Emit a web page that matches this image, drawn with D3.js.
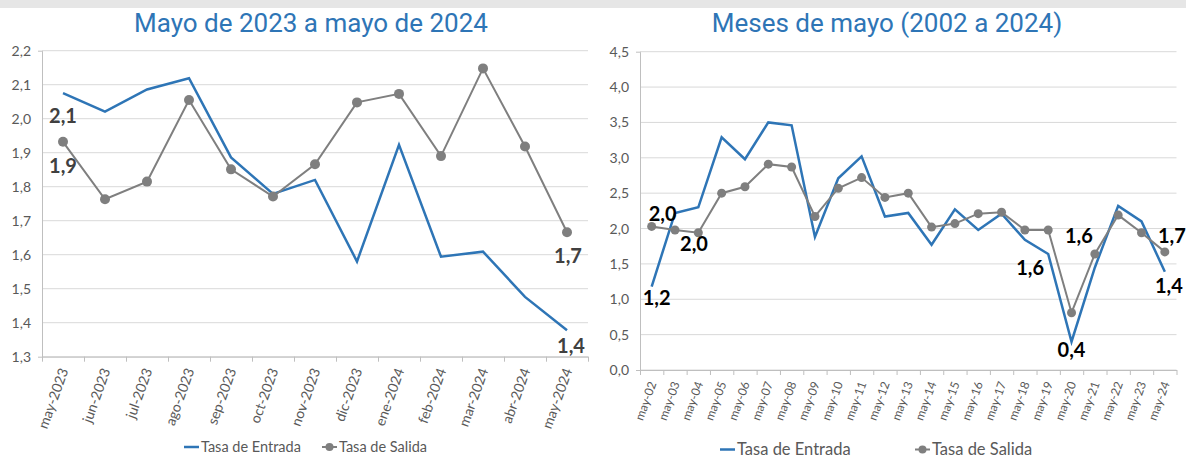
<!DOCTYPE html>
<html>
<head>
<meta charset="utf-8">
<script src="https://cdn.jsdelivr.net/npm/d3@7"></script>
<style>
  body { margin: 0; background: #fff; }
  text { font-family: Lato, "Liberation Sans", sans-serif; }
</style>
</head>
<body>
<svg id="graf" width="1186" height="459"></svg>
<script>
// datos: mayo 2023 a mayo 2024
const mesesCorto = ["may-2023", "jun-2023", "jul-2023", "ago-2023", "sep-2023", "oct-2023", "nov-2023",
  "dic-2023", "ene-2024", "feb-2024", "mar-2024", "abr-2024", "may-2024"]
const entradaCorto = [2.075, 2.021, 2.086, 2.119, 1.886, 1.779, 1.82, 1.58, 1.923, 1.594, 1.609, 1.476, 1.378]
const salidaCorto = [1.932, 1.763, 1.815, 2.055, 1.851, 1.771, 1.866, 2.048, 2.073, 1.89, 2.148, 1.918, 1.666]
const yTicksCorto = [1.3, 1.4, 1.5, 1.6, 1.7, 1.8, 1.9, 2.0, 2.1, 2.2]

// datos: meses de mayo 2002 a 2024
const aniosMayo = ["may-02", "may-03", "may-04", "may-05", "may-06", "may-07", "may-08", "may-09", "may-10",
  "may-11", "may-12", "may-13", "may-14", "may-15", "may-16", "may-17", "may-18", "may-19", "may-20",
  "may-21", "may-22", "may-23", "may-24"]
const entradaMayo = [1.18, 2.22, 2.30, 3.29, 2.98, 3.50, 3.46, 1.88, 2.71, 3.02, 2.17, 2.22, 1.77, 2.27,
  1.98, 2.21, 1.84, 1.64, 0.40, 1.45, 2.32, 2.10, 1.39]
const salidaMayo = [2.03, 1.98, 1.94, 2.50, 2.59, 2.91, 2.87, 2.17, 2.57, 2.72, 2.44, 2.50, 2.02, 2.07,
  2.21, 2.23, 1.98, 1.98, 0.81, 1.64, 2.19, 1.94, 1.67]
const yTicksMayo = [0, 0.5, 1.0, 1.5, 2.0, 2.5, 3.0, 3.5, 4.0, 4.5]

// etiquetas de valor: serie e indice del punto
const etiquetasCorto = [
  {serie: "entrada", i: 0, dx: 0, dy: 30},
  {serie: "salida", i: 0, dx: 0, dy: 31},
  {serie: "salida", i: 12, dx: 1, dy: 31},
  {serie: "entrada", i: 12, dx: 4, dy: 23}
]
const etiquetasMayo = [
  {serie: "entrada", i: 0, dx: 5, dy: 18},
  {serie: "salida", i: 0, dx: 11, dy: -5},
  {serie: "salida", i: 1, dx: 19, dy: 21},
  {serie: "entrada", i: 17, dx: -18, dy: 21},
  {serie: "salida", i: 19, dx: -16, dy: -11},
  {serie: "entrada", i: 18, dx: 0, dy: 15},
  {serie: "salida", i: 22, dx: 7, dy: -9},
  {serie: "entrada", i: 22, dx: 4, dy: 21}
]

const AZUL = "#2e75b6"
const GRIS = "#7f7f7f"
const coma = v => d3.format(".1f")(v).replace(".", ",")

var svg = d3.select("#graf")

// franja gris superior
svg.append("rect").attr("x", 0).attr("y", 0).attr("width", 1186).attr("height", 8).attr("fill", "#e6e6e6")

function dibujar(cfg) {
  var g = svg.append("g")
  var n = cfg.cats.length
  var y = d3.scaleLinear().domain(d3.extent(cfg.yTicks)).range([cfg.bottom, cfg.top])
  var x = d3.scaleBand().domain(cfg.cats).range([cfg.left, cfg.right])
  var xLin = d3.scaleLinear().domain([0, n]).range([cfg.left, cfg.right])
  var cx = i => x(cfg.cats[i]) + x.bandwidth() / 2

  // titulo
  g.append("text")
    .attr("x", cfg.tituloX).attr("y", 32)
    .attr("text-anchor", "middle")
    .style("font-family", "Roboto, sans-serif")
    .style("font-size", "26px")
    .attr("fill", AZUL)
    .text(cfg.titulo)

  // lineas de cuadricula
  g.selectAll(".grid")
    .data(cfg.yTicks)
    .enter()
    .append("line")
    .attr("x1", cfg.left).attr("x2", cfg.right)
    .attr("y1", d => y(d)).attr("y2", d => y(d))
    .attr("stroke", "#d9d9d9")
    .attr("stroke-width", 1)

  // eje y
  var ejeY = g.append("g")
    .attr("transform", "translate(" + cfg.left + ",0)")
    .call(d3.axisLeft(y).tickValues(cfg.yTicks).tickFormat(coma).tickSizeInner(0).tickSizeOuter(4).tickPadding(11))
  ejeY.select(".domain").attr("stroke", "#bfbfbf")
  ejeY.selectAll("text").attr("fill", "#595959").style("font-size", "14px").style("font-family", "Lato, sans-serif")

  // eje x
  var ejeX = g.append("g")
    .attr("transform", "translate(0," + cfg.bottom + ")")
    .call(d3.axisBottom(xLin).tickValues(d3.range(n + 1)).tickFormat("").tickSizeInner(5).tickSizeOuter(0))
  ejeX.select(".domain").attr("stroke", "#bfbfbf")
  ejeX.selectAll("line").attr("stroke", "#bfbfbf")

  g.selectAll(".xlab")
    .data(cfg.cats)
    .enter()
    .append("text")
    .attr("transform", (d, i) => "translate(" + (cx(i) + 1) + "," + (cfg.bottom + 12) + ") rotate(-70)")
    .attr("text-anchor", "end")
    .attr("dy", "0.35em")
    .attr("fill", "#595959")
    .style("font-size", cfg.fuenteX)
    .text(d => d)

  // series
  var linea = d3.line().x((d, i) => cx(i)).y(d => y(d))
  g.append("path")
    .datum(cfg.entrada)
    .attr("d", linea)
    .attr("fill", "none")
    .attr("stroke", AZUL)
    .attr("stroke-width", 2.5)
  g.append("path")
    .datum(cfg.salida)
    .attr("d", linea)
    .attr("fill", "none")
    .attr("stroke", GRIS)
    .attr("stroke-width", 2)
  g.selectAll(".punto")
    .data(cfg.salida)
    .enter()
    .append("circle")
    .attr("cx", (d, i) => cx(i))
    .attr("cy", d => y(d))
    .attr("r", cfg.radio)
    .attr("fill", GRIS)

  // etiquetas de datos
  g.selectAll(".etq")
    .data(cfg.etiquetas)
    .enter()
    .append("text")
    .attr("x", d => cx(d.i) + d.dx)
    .attr("y", d => y(cfg[d.serie][d.i]) + d.dy)
    .attr("text-anchor", "middle")
    .attr("fill", cfg.colorEtq)
    .style("font-size", "20px")
    .style("font-weight", "bold")
    .text(d => coma(cfg[d.serie][d.i]))

  // leyenda
  var ley = g.append("g").attr("transform", "translate(0," + cfg.leyY + ")")
  ley.append("line")
    .attr("x1", cfg.leyX[0]).attr("x2", cfg.leyX[0] + 15)
    .attr("stroke", AZUL).attr("stroke-width", 2.5)
  ley.append("text")
    .attr("x", cfg.leyX[0] + 17).attr("dy", "0.35em")
    .attr("fill", "#595959").style("font-size", cfg.fuenteLey)
    .text("Tasa de Entrada")
  ley.append("line")
    .attr("x1", cfg.leyX[1]).attr("x2", cfg.leyX[1] + 15)
    .attr("stroke", GRIS).attr("stroke-width", 2)
  ley.append("circle")
    .attr("cx", cfg.leyX[1] + 7.5).attr("r", 4)
    .attr("fill", GRIS)
  ley.append("text")
    .attr("x", cfg.leyX[1] + 17).attr("dy", "0.35em")
    .attr("fill", "#595959").style("font-size", cfg.fuenteLey)
    .text("Tasa de Salida")
}

dibujar({
  titulo: "Mayo de 2023 a mayo de 2024", tituloX: 311,
  cats: mesesCorto, entrada: entradaCorto, salida: salidaCorto, yTicks: yTicksCorto,
  etiquetas: etiquetasCorto, colorEtq: "#404040",
  left: 42, right: 588, top: 50.7, bottom: 356.7,
  fuenteX: "14px", fuenteLey: "14.5px", radio: 5,
  leyY: 447, leyX: [184, 322]
})

dibujar({
  titulo: "Meses de mayo (2002 a 2024)", tituloX: 887,
  cats: aniosMayo, entrada: entradaMayo, salida: salidaMayo, yTicks: yTicksMayo,
  etiquetas: etiquetasMayo, colorEtq: "#000",
  left: 640, right: 1176.5, top: 51.7, bottom: 370,
  fuenteX: "12px", fuenteLey: "16.5px", radio: 4.5,
  leyY: 449.5, leyX: [720, 915]
})
</script>
</body>
</html>
